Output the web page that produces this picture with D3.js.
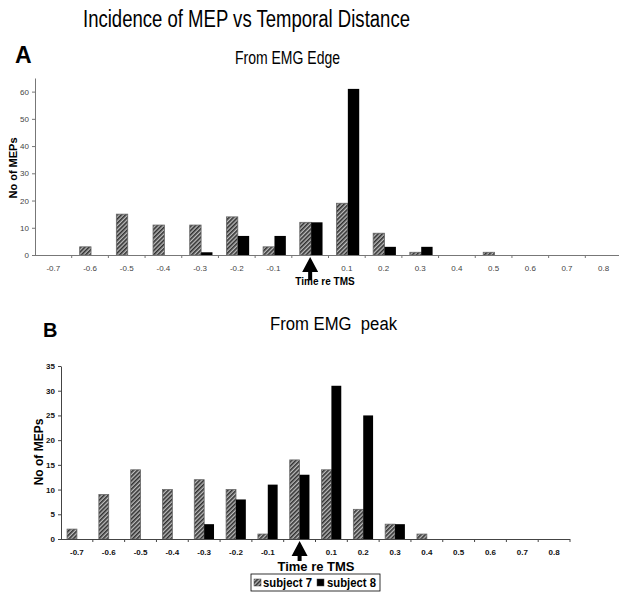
<!DOCTYPE html>
<html>
<head>
<meta charset="utf-8">
<script src="https://cdn.jsdelivr.net/npm/d3@7"></script>
<style>
  body { margin: 0; background: #fff; }
  svg { display: block; font-family: "Liberation Sans", Arial, sans-serif; }
</style>
</head>
<body>
<div id="chart"></div>
<script>
// categories: time re TMS (the 0 bin is marked by the arrow, no label)
var timeLabels = ["-0.7","-0.6","-0.5","-0.4","-0.3","-0.2","-0.1","0",
                  "0.1","0.2","0.3","0.4","0.5","0.6","0.7","0.8"];

// panel A - from EMG edge
var edgeSubject7 = [0, 3, 15, 11, 11, 14, 3, 12, 19, 8, 1, 0, 1, 0, 0, 0];
var edgeSubject8 = [0, 0, 0, 0, 1, 7, 7, 12, 61, 3, 3, 0, 0, 0, 0, 0];
var edgeTicks = [0, 10, 20, 30, 40, 50, 60];

// panel B - from EMG peak
var peakSubject7 = [2, 9, 14, 10, 12, 10, 1, 16, 14, 6, 3, 1, 0, 0, 0, 0];
var peakSubject8 = [0, 0, 0, 0, 3, 8, 11, 13, 31, 25, 3, 0, 0, 0, 0, 0];
var peakTicks = [0, 5, 10, 15, 20, 25, 30, 35];

var seriesNames = ["subject 7", "subject 8"];

var svg = d3.select("#chart").append("svg")
    .attr("width", 619)
    .attr("height", 592);

// hatch pattern for subject 7
var defs = svg.append("defs");
var pat = defs.append("pattern")
    .attr("id", "hatch")
    .attr("patternUnits", "userSpaceOnUse")
    .attr("width", 3)
    .attr("height", 3)
    .attr("patternTransform", "rotate(45)");
pat.append("rect").attr("width", 3).attr("height", 3).attr("fill", "#bdbdbd");
pat.append("rect").attr("width", 1.6).attr("height", 3).attr("fill", "#303030");

// main title (the original font is narrow, so squeeze it to its width)
svg.append("text")
    .attr("x", 83)
    .attr("y", 27)
    .attr("textLength", 327)
    .attr("lengthAdjust", "spacingAndGlyphs")
    .style("font-size", "23px")
    .text("Incidence of MEP vs Temporal Distance");

function drawPanel(opt){
    var x = d3.scaleBand()
        .domain(timeLabels)
        .range([opt.left, opt.right]);

    var y = d3.scaleLinear()
        .domain([0, opt.yMax])
        .range([opt.bottom, opt.top]);

    var g = svg.append("g").attr("class", "panel");

    // letter + subtitle
    g.append("text")
        .attr("x", opt.letterX)
        .attr("y", opt.letterY)
        .style("font-size", opt.letterSize + "px")
        .style("font-weight", "bold")
        .text(opt.letter);

    g.append("text")
        .attr("x", opt.subX)
        .attr("y", opt.subY)
        .attr("textLength", opt.subWidth)
        .attr("lengthAdjust", "spacingAndGlyphs")
        .style("font-size", "18px")
        .style("white-space", "pre")
        .attr("xml:space", "preserve")
        .text(opt.subtitle);

    // y axis
    var yAxis = d3.axisLeft(y)
        .tickValues(opt.ticks)
        .tickSize(3)
        .tickSizeOuter(0)
        .tickPadding(3);

    var ya = g.append("g")
        .attr("transform", "translate(" + opt.left + ",0)")
        .call(yAxis);
    ya.select(".domain").attr("stroke", opt.axisColor);
    ya.selectAll(".tick line").attr("stroke", opt.axisColor);
    ya.selectAll("text")
        .style("font-size", "8px")
        .style("font-weight", opt.tickWeight)
        .attr("fill", opt.tickColor)
        .style("font-family", "'Liberation Sans', Arial, sans-serif");

    // y title
    g.append("text")
        .attr("transform", "translate(" + opt.yTitleX + "," + opt.yTitleY + ") rotate(-90)")
        .style("text-anchor", "middle")
        .style("font-size", opt.yTitleSize + "px")
        .style("font-weight", "bold")
        .text("No of MEPs");

    // bars
    var bw = x.bandwidth() * 0.31;
    var off = opt.barOffset;

    g.selectAll(".bar7")
        .data(opt.s7)
        .enter().append("rect")
        .attr("class", "bar7")
        .attr("x", function(d, i){ return x(timeLabels[i]) + x.bandwidth()/2 - bw + off; })
        .attr("y", function(d){ return y(d); })
        .attr("width", bw)
        .attr("height", function(d){ return opt.bottom - y(d); })
        .attr("fill", "url(#hatch)")
        .attr("stroke", function(d){ return d > 0 ? "#666" : "none"; })
        .attr("stroke-width", 0.8);

    g.selectAll(".bar8")
        .data(opt.s8)
        .enter().append("rect")
        .attr("class", "bar8")
        .attr("x", function(d, i){ return x(timeLabels[i]) + x.bandwidth()/2 + off; })
        .attr("y", function(d){ return y(d); })
        .attr("width", bw)
        .attr("height", function(d){ return opt.bottom - y(d); })
        .attr("fill", "#000");

    // x axis line with ticks at bin boundaries
    g.append("line")
        .attr("x1", opt.left)
        .attr("x2", opt.right)
        .attr("y1", opt.bottom + 0.5)
        .attr("y2", opt.bottom + 0.5)
        .attr("stroke", opt.axisColor);

    var bounds = timeLabels.map(function(d){ return x(d); }).concat([x.range()[1]]);
    g.selectAll(".xtick")
        .data(bounds.slice(1))
        .enter().append("line")
        .attr("class", "xtick")
        .attr("x1", function(d){ return d; })
        .attr("x2", function(d){ return d; })
        .attr("y1", opt.bottom)
        .attr("y2", opt.bottom + 3)
        .attr("stroke", opt.axisColor);

    g.selectAll(".xlabel")
        .data(timeLabels.filter(function(d){ return d !== "0"; }))
        .enter().append("text")
        .attr("class", "xlabel")
        .attr("x", function(d){ return x(d) + x.bandwidth()/2; })
        .attr("y", opt.bottom + 16)
        .style("text-anchor", "middle")
        .style("font-size", "8px")
        .style("font-weight", opt.tickWeight)
        .attr("fill", opt.tickColor)
        .text(function(d){ return d; });

    // arrow at time 0
    var cx = x("0") + x.bandwidth()/2;
    var ay = opt.bottom + 2;
    var ah = opt.arrowHead, aw = opt.arrowHalf;
    g.append("path")
        .attr("d", "M" + cx + "," + ay +
                   "L" + (cx + aw) + "," + (ay + ah) +
                   "L" + (cx + 2) + "," + (ay + ah) +
                   "L" + (cx + 2) + "," + (ay + ah + opt.arrowShaft) +
                   "L" + (cx - 2) + "," + (ay + ah + opt.arrowShaft) +
                   "L" + (cx - 2) + "," + (ay + ah) +
                   "L" + (cx - aw) + "," + (ay + ah) + "Z")
        .attr("fill", "#000");

    g.append("text")
        .attr("x", opt.timeX)
        .attr("y", opt.timeY)
        .style("text-anchor", "middle")
        .style("font-size", opt.timeSize + "px")
        .style("font-weight", "bold")
        .text("Time re TMS");

    return x;
}

drawPanel({
    letter: "A", letterX: 15, letterY: 63, letterSize: 23,
    subtitle: "From EMG Edge", subX: 235, subY: 64, subWidth: 105,
    left: 35, right: 622, top: 78, bottom: 255, yMax: 65,
    ticks: edgeTicks, s7: edgeSubject7, s8: edgeSubject8,
    axisColor: "#777", tickColor: "#444", tickWeight: "normal",
    yTitleX: 17, yTitleY: 168, yTitleSize: 11,
    barOffset: 1,
    arrowHead: 15, arrowHalf: 8, arrowShaft: 8,
    timeX: 325, timeY: 285, timeSize: 10
});

drawPanel({
    letter: "B", letterX: 43, letterY: 337, letterSize: 20,
    subtitle: "From EMG  peak", subX: 270, subY: 330, subWidth: 127,
    left: 61, right: 570, top: 366, bottom: 539, yMax: 35,
    ticks: peakTicks, s7: peakSubject7, s8: peakSubject8,
    axisColor: "#444", tickColor: "#111", tickWeight: "bold",
    yTitleX: 43, yTitleY: 452, yTitleSize: 12,
    barOffset: 0,
    arrowHead: 15, arrowHalf: 8, arrowShaft: 5,
    timeX: 316, timeY: 571, timeSize: 13
});

// legend (panel B)
var legend = svg.append("g").attr("class", "legend");
legend.append("rect")
    .attr("x", 251).attr("y", 574)
    .attr("width", 129).attr("height", 17)
    .attr("fill", "#fff")
    .attr("stroke", "#000")
    .attr("stroke-width", 0.8);

var legendItems = [
    {name: seriesNames[0], fill: "url(#hatch)", sx: 254, tx: 263},
    {name: seriesNames[1], fill: "#000", sx: 317, tx: 327}
];
legendItems.forEach(function(d){
    legend.append("rect")
        .attr("x", d.sx).attr("y", 579)
        .attr("width", 7).attr("height", 7)
        .attr("fill", d.fill)
        .attr("stroke", "#444").attr("stroke-width", 0.5);
    legend.append("text")
        .attr("x", d.tx).attr("y", 587)
        .attr("textLength", 49)
        .attr("lengthAdjust", "spacingAndGlyphs")
        .style("font-size", "12px")
        .style("font-weight", "bold")
        .text(d.name);
});
</script>
</body>
</html>
